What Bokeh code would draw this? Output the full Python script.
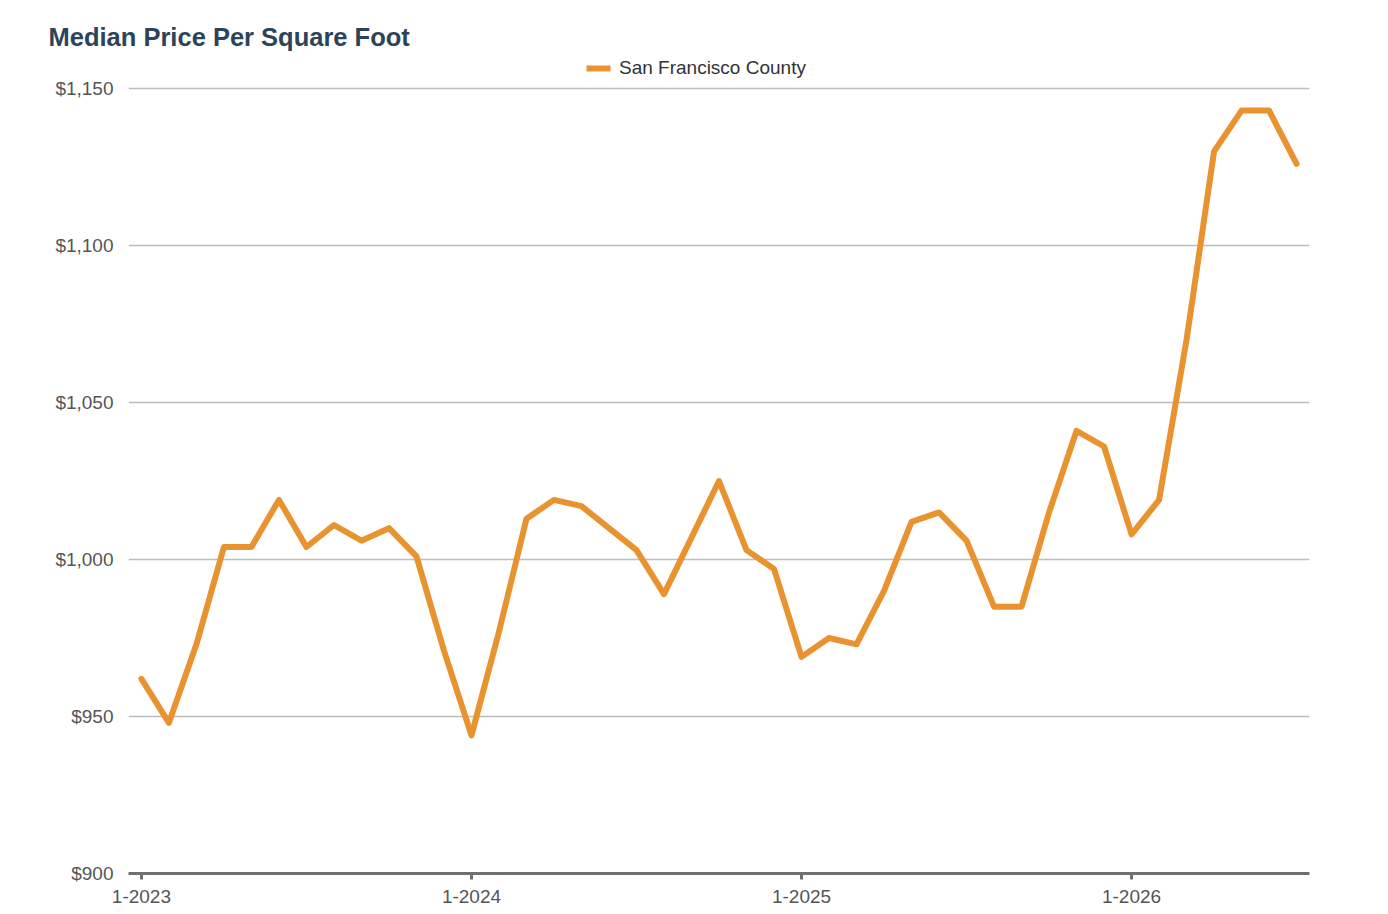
from bokeh.plotting import figure
from bokeh.models import (ColumnDataSource, FixedTicker, NumeralTickFormatter, Legend,
                          LegendItem, Range1d)
from bokeh.embed import file_html
from bokeh.resources import INLINE

# ---- data ----
months = [f"{m}-{y}" for y in (2023, 2024, 2025, 2026) for m in range(1, 13)][:43]
price = [962, 948, 973, 1004, 1004, 1019, 1004, 1011, 1006, 1010, 1001, 971,
         944, 977, 1013, 1019, 1017, 1010, 1003, 989, 1007, 1025, 1003, 997,
         969, 975, 973, 990, 1012, 1015, 1006, 985, 985, 1015, 1041, 1036,
         1008, 1019, 1070, 1130, 1143, 1143, 1126]
series_name = "San Francisco County"
tick_labels = ["1-2023", "1-2024", "1-2025", "1-2026"]
y_ticks = [900, 950, 1000, 1050, 1100, 1150]

idx = list(range(len(months)))
src = ColumnDataSource(dict(x=idx, y=price, month=months))

FONT = "Liberation Sans"
ORANGE = "#E8932F"

# the frame extends above the top gridline to hold the legend
p = figure(width=1380, height=910, output_backend="svg", toolbar_location=None,
           x_range=Range1d(-0.47, len(months) - 1 + 0.47),
           y_range=Range1d(900, 1161.5),
           min_border_left=128, min_border_right=71, min_border_top=52,
           min_border_bottom=37)
p.outline_line_color = None
p.background_fill_color = "white"
p.border_fill_color = "white"

r = p.line("x", "y", source=src, line_color=ORANGE, line_width=6,
           line_join="round", line_cap="round")

# title
p.title.text = "Median Price Per Square Foot"
p.title.text_font = FONT
p.title.text_font_size = "25.5px"
p.title.text_font_style = "bold"
p.title.text_color = "#2B4459"
p.title.align = "left"
p.title.offset = -80
p.title.standoff = 3

# legend at top of the frame
legend = Legend(items=[LegendItem(label=series_name, renderers=[r])],
                orientation="horizontal", location="top_center",
                label_text_font=FONT, label_text_font_size="19px",
                label_text_color="#333333", glyph_width=24, glyph_height=18,
                label_standoff=9, label_width=232, padding=4, margin=5, spacing=0,
                border_line_color=None, background_fill_alpha=0)
p.add_layout(legend, "center")

# x axis
tick_pos = [months.index(t) for t in tick_labels]
p.xaxis.ticker = FixedTicker(ticks=tick_pos)
p.xaxis.major_label_overrides = {pos: lab for pos, lab in zip(tick_pos, tick_labels)}
p.xaxis.axis_line_color = "#707070"
p.xaxis.axis_line_width = 3
p.xaxis.major_tick_line_color = "#707070"
p.xaxis.major_tick_line_width = 3
p.xaxis.major_tick_out = 6
p.xaxis.major_tick_in = 0
p.xaxis.minor_tick_line_color = None
p.xaxis.major_label_text_font = FONT
p.xaxis.major_label_text_font_size = "19px"
p.xaxis.major_label_text_color = "#555555"
p.xaxis.major_label_standoff = 10

# y axis
p.yaxis.ticker = FixedTicker(ticks=y_ticks)
p.yaxis.formatter = NumeralTickFormatter(format="$0,0")
p.yaxis.axis_line_color = None
p.yaxis.major_tick_line_color = None
p.yaxis.minor_tick_line_color = None
p.yaxis.major_label_text_font = FONT
p.yaxis.major_label_text_font_size = "19px"
p.yaxis.major_label_text_color = "#555555"
p.yaxis.major_label_standoff = 9

p.xgrid.grid_line_color = None
p.ygrid.ticker = FixedTicker(ticks=y_ticks)
p.ygrid.grid_line_color = "#BDBDBD"
p.ygrid.grid_line_width = 1.5

open("out.html", "w").write(file_html(p, INLINE))
